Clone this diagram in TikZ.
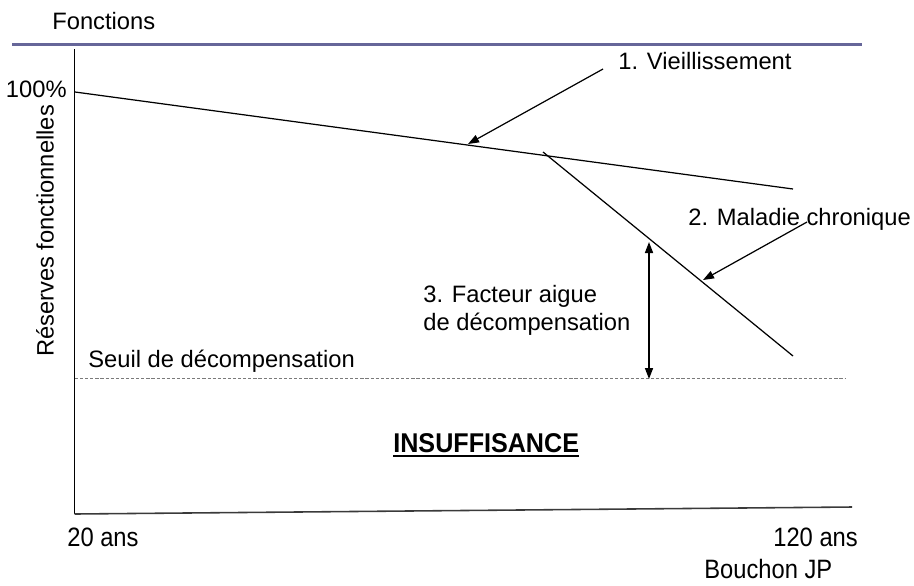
\documentclass[tikz,border=0pt]{standalone}
\usepackage{fontspec}
\setmainfont{Liberation Sans}
\usepackage{tikz}
\usetikzlibrary{positioning,arrows.meta,calc}
\definecolor{ruleCol}{HTML}{666699}
\definecolor{axisCol}{HTML}{3A3A3A}
\definecolor{seuilCol}{HTML}{7A7A7A}

\begin{document}
\begin{tikzpicture}[
  x=0.2mm, y=-0.2mm,
  font=\fontsize{13.5}{16}\selectfont,
  txt/.style={inner sep=0pt, anchor=base west},
  bas/.style={txt, yscale=1.12},
  courbe/.style={line width=0.7pt, draw=black},
  fleche/.style={-{Triangle[length=2.2mm,width=1.6mm]}, line width=0.7pt},
  amplitude/.style={{Triangle[length=2.2mm,width=1.6mm]}-{Triangle[length=2.2mm,width=1.6mm]}, line width=0.9pt},
]
\useasboundingbox (0,0) rectangle (914,585);

% ---- En-tete ----
\node[txt] (fonctions) at (52,29) {Fonctions};
\coordinate (regleG) at (12,44.5);
\coordinate (regleD) at (862,44.5);
\draw[ruleCol, line width=1.7pt] (regleG) -- (regleD);

% ---- Axes ----
\coordinate (haut)   at (74.5,49);
\coordinate (orig)   at (74.5,514);
\coordinate (finX)   at (852,507);
\draw[line width=0.6pt] (haut) -- (orig);
\draw[axisCol, line width=0.9pt] (orig) -- (finX);
\node[inner sep=0pt, anchor=base east] (cent) at (67,97) {100\%};
\node[inner sep=0pt, rotate=90] (reserves) at (45,231) {Réserves fonctionnelles};
\node[bas] (vingt) at (67,546) {20 ans};
\node[bas] (centvingt) at (773,546) {120 ans};
\node[bas] (auteur) at (704,578) {Bouchon JP};

% ---- Courbes ----
\coordinate (v0) at (75,92);
\coordinate (v1) at (793,189);
\draw[courbe] (v0) -- (v1);
\coordinate (m0) at (543,152);
\coordinate (m1) at (793,356);
\draw[courbe] (m0) -- (m1);

% ---- Seuil ----
\coordinate (s0) at (75,378.5);
\coordinate (s1) at (846,378.5);
\draw[seuilCol, line width=0.6pt, dash pattern=on 1.8pt off 1.1pt] (s0) -- (s1);
\node[txt] (seuil) at (88,367) {Seuil de décompensation};

% ---- Etiquettes et fleches ----
\node[txt] (vieil) at (618,69) {1. Vieillissement};
\coordinate (vieilA) at (603,69);
\coordinate (vieilB) at (468,144);
\draw[fleche] (vieilA) -- (vieilB);

\node[txt] (maladie) at (688,225) {2. Maladie chronique};
\coordinate (malA) at (807,222);
\coordinate (malB) at (703,280);
\draw[fleche] (malA) -- (malB);

\node[txt] (facteur1) at (423,302) {3. Facteur aigue};
\node[txt] (facteur2) at (423,330) {de décompensation};
\coordinate (ampH) at (649,242);
\coordinate (ampB) at (649,379);
\draw[amplitude] (ampH) -- (ampB);

% ---- Zone d'insuffisance ----
\node[txt, font=\fontsize{14.3}{17}\selectfont\bfseries, yscale=1.08] (insuf) at (393,452) {INSUFFISANCE};
\draw[line width=1.6pt] ($(insuf.base west)+(0,4)$) -- ($(insuf.base east)+(0,4)$);

\end{tikzpicture}
\end{document}
